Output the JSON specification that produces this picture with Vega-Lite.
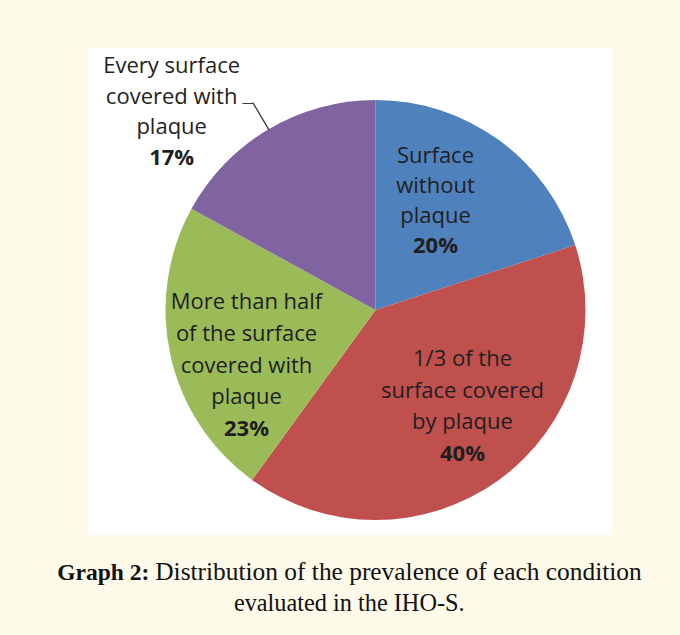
{
  "$schema": "https://vega.github.io/schema/vega-lite/v6.json",
  "background": "#FEFAE9",
  "padding": {"left": 57, "top": 48, "right": 39, "bottom": 0},
  "spacing": 0,
  "center": true,
  "config": {"view": {"stroke": null}},
  "vconcat": [
    {
      "width": 524,
      "height": 487,
      "view": {"fill": "white", "stroke": null},
      "data": {"values": [
        {"condition": "Surface without plaque", "label": "Surface\nwithout\nplaque", "value": 20, "rank": 1},
        {"condition": "1/3 of the surface covered by plaque", "label": "1/3 of the\nsurface covered\nby plaque", "value": 40, "rank": 2},
        {"condition": "More than half of the surface covered with plaque", "label": "More than half\nof the surface\ncovered with\nplaque", "value": 23, "rank": 3},
        {"condition": "Every surface covered with plaque", "label": "Every surface\ncovered with\nplaque", "value": 17, "rank": 4}
      ]},
      "transform": [
        {"stack": "value", "groupby": [], "sort": [{"field": "rank", "order": "ascending"}], "as": ["v0", "v1"]},
        {"calculate": "(datum.v0 + datum.v1) / 2", "as": "mid"},
        {"calculate": "datum.value + '%'", "as": "pct"}
      ],
      "layer": [
        {
          "mark": {"type": "arc", "outerRadius": 210, "xOffset": 26, "yOffset": 18.5},
          "encoding": {
            "theta": {"field": "v0", "type": "quantitative", "scale": {"domain": [0, 100]}},
            "theta2": {"field": "v1"},
            "color": {
              "field": "condition", "type": "nominal", "legend": null,
              "scale": {
                "domain": ["Surface without plaque", "1/3 of the surface covered by plaque", "More than half of the surface covered with plaque", "Every surface covered with plaque"],
                "range": ["#4F81BD", "#C0504D", "#9BBB59", "#8064A2"]
              }
            }
          }
        },
        {
          "transform": [{"filter": "datum.rank == 4"}],
          "encoding": {"theta": {"field": "mid", "type": "quantitative"}},
          "layer": [
            {
              "mark": {"type": "arc", "filled": false, "innerRadius": 209, "outerRadius": 241, "stroke": "#3a3a3a", "strokeWidth": 1.3, "xOffset": 26, "yOffset": 18.5},
              "encoding": {"theta2": {"field": "mid"}}
            },
            {
              "mark": {"type": "text", "text": "—", "radius": 241, "dx": 1, "align": "right", "baseline": "middle", "font": "DejaVu Sans", "fontSize": 12, "color": "#3a3a3a", "xOffset": 26, "yOffset": 18.5}
            }
          ]
        },
        {
          "transform": [{"filter": "datum.rank == 1"}],
          "encoding": {"theta": {"field": "mid", "type": "quantitative"}},
          "layer": [
            {"mark": {"type": "text", "radius": 158.8, "thetaOffset": -0.241, "xOffset": 26, "yOffset": 18.5, "font": "Open Sans", "fontSize": 22, "lineBreak": "\n", "lineHeight": 30, "baseline": "alphabetic", "align": "center", "color": "#1f1f1f"},
             "encoding": {"text": {"field": "label"}}},
            {"mark": {"type": "text", "radius": 158.8, "thetaOffset": -0.241, "xOffset": 26, "yOffset": 18.5, "dy": 90, "font": "Open Sans", "fontSize": 22, "fontWeight": "bold", "baseline": "alphabetic", "align": "center", "color": "#1f1f1f"},
             "encoding": {"text": {"field": "pct"}}}
          ]
        },
        {
          "transform": [{"filter": "datum.rank == 2"}],
          "encoding": {"theta": {"field": "mid", "type": "quantitative"}},
          "layer": [
            {"mark": {"type": "text", "radius": 103.5, "thetaOffset": -0.370, "xOffset": 26, "yOffset": 18.5, "font": "Open Sans", "fontSize": 22, "lineBreak": "\n", "lineHeight": 31.7, "baseline": "alphabetic", "align": "center", "color": "#1f1f1f"},
             "encoding": {"text": {"field": "label"}}},
            {"mark": {"type": "text", "radius": 103.5, "thetaOffset": -0.370, "xOffset": 26, "yOffset": 18.5, "dy": 95, "font": "Open Sans", "fontSize": 22, "fontWeight": "bold", "baseline": "alphabetic", "align": "center", "color": "#1f1f1f"},
             "encoding": {"text": {"field": "pct"}}}
          ]
        },
        {
          "transform": [{"filter": "datum.rank == 3"}],
          "encoding": {"theta": {"field": "mid", "type": "quantitative"}},
          "layer": [
            {"mark": {"type": "text", "radius": 129, "thetaOffset": 0.227, "xOffset": 26, "yOffset": 18.5, "font": "Open Sans", "fontSize": 22, "lineBreak": "\n", "lineHeight": 31.75, "baseline": "alphabetic", "align": "center", "color": "#1f1f1f"},
             "encoding": {"text": {"field": "label"}}},
            {"mark": {"type": "text", "radius": 129, "thetaOffset": 0.227, "xOffset": 26, "yOffset": 18.5, "dy": 127, "font": "Open Sans", "fontSize": 22, "fontWeight": "bold", "baseline": "alphabetic", "align": "center", "color": "#1f1f1f"},
             "encoding": {"text": {"field": "pct"}}}
          ]
        },
        {
          "transform": [{"filter": "datum.rank == 4"}],
          "encoding": {"theta": {"field": "mid", "type": "quantitative"}},
          "layer": [
            {"mark": {"type": "text", "radius": 312.7, "thetaOffset": -0.176, "xOffset": 26, "yOffset": 18.5, "font": "Open Sans", "fontSize": 22, "lineBreak": "\n", "lineHeight": 30.7, "baseline": "alphabetic", "align": "center", "color": "#1f1f1f"},
             "encoding": {"text": {"field": "label"}}},
            {"mark": {"type": "text", "radius": 312.7, "thetaOffset": -0.176, "xOffset": 26, "yOffset": 18.5, "dy": 92, "font": "Open Sans", "fontSize": 22, "fontWeight": "bold", "baseline": "alphabetic", "align": "center", "color": "#1f1f1f"},
             "encoding": {"text": {"field": "pct"}}}
          ]
        }
      ]
    },
    {
      "width": 584,
      "height": 100,
      "data": {"values": [{}]},
      "layer": [
        {"mark": {"type": "text", "text": "Graph 2:", "x": 92, "y": 45, "align": "right", "baseline": "alphabetic", "font": "Liberation Serif", "fontSize": 23.5, "fontWeight": "bold", "color": "#111111"}, "encoding": {}},
        {"mark": {"type": "text", "text": "Distribution of the prevalence of each condition", "x": 98, "y": 45, "align": "left", "baseline": "alphabetic", "font": "Liberation Serif", "fontSize": 25.4, "color": "#111111"}, "encoding": {}},
        {"mark": {"type": "text", "text": "evaluated in the IHO-S.", "x": 292, "y": 76, "align": "center", "baseline": "alphabetic", "font": "Liberation Serif", "fontSize": 24.3, "color": "#111111"}, "encoding": {}}
      ]
    }
  ]
}
